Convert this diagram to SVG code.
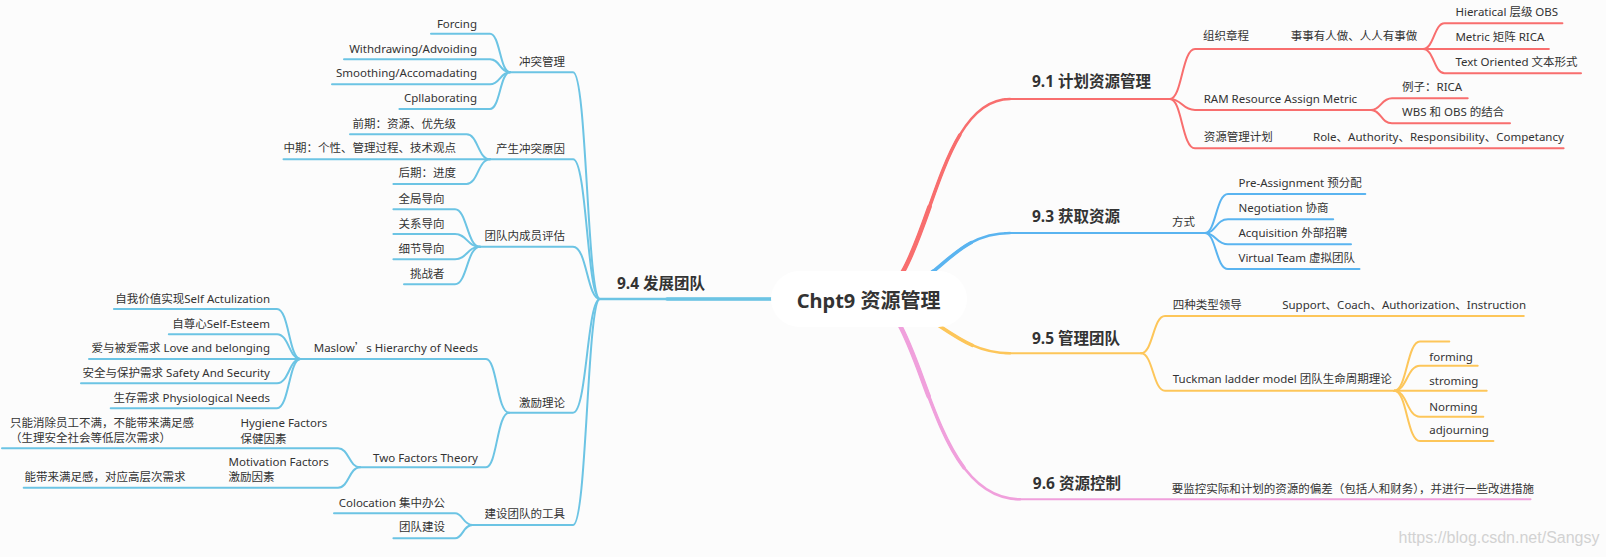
<svg xmlns="http://www.w3.org/2000/svg" width="1606" height="557" viewBox="0 0 1606 557">
<defs>
<style>
.t{font-family:"Noto Sans","Noto Sans CJK SC",sans-serif;font-size:11.5px;fill:#333}
.e{text-anchor:end}
.b{font-family:"Noto Sans","Noto Sans CJK SC",sans-serif;font-size:15.5px;font-weight:bold;fill:#333}
.c{font-family:"Noto Sans","Noto Sans CJK SC",sans-serif;font-size:20px;font-weight:bold;fill:#333}
.cj{font-family:"Noto Sans CJK SC",sans-serif}
.l{fill:none;stroke-width:2;stroke-linecap:round;stroke-linejoin:round}
.L{stroke:#6cc4e4}.R{stroke:#f86e6e}.B{stroke:#5ab4f0}.Y{stroke:#fdc65a}.P{stroke:#f0a0dc}
.m1{stroke-width:2.5}
.m2{stroke-width:3.5;stroke-dasharray:75 200}
.m3{stroke-width:4.6;stroke-dasharray:45 200}
.wm{font-family:"Liberation Sans",sans-serif;font-size:16px;fill:#d2d2d2}
</style>
</defs>
<rect width="1606" height="557" fill="#fcfcfc"/>
<g id="connectors">
<!-- main branches (tapered) -->
<g class="l L">
<path class="m1" d="M868,299 L600,299"/>
<path class="m2" pathLength="100" d="M868,299 L600,299"/>
</g>
<g class="l R">
<path class="m1" pathLength="100" d="M868,299 C930,299 930,99 1010,99"/>
<path class="m2" pathLength="100" d="M868,299 C930,299 930,99 1010,99"/>
<path class="m3" pathLength="100" d="M868,299 C930,299 930,99 1010,99"/>
</g>
<g class="l B">
<path class="m1" pathLength="100" d="M868,299 C935,299 945,233 1010,233"/>
<path class="m2" pathLength="100" d="M868,299 C935,299 945,233 1010,233"/>
<path class="m3" pathLength="100" d="M868,299 C935,299 945,233 1010,233"/>
</g>
<g class="l Y">
<path class="m1" pathLength="100" d="M868,299 C930,299 950,353.3 1010,353.3"/>
<path class="m2" pathLength="100" d="M868,299 C930,299 950,353.3 1010,353.3"/>
<path class="m3" pathLength="100" d="M868,299 C930,299 950,353.3 1010,353.3"/>
</g>
<g class="l P">
<path class="m1" pathLength="100" d="M868,299 C925,299 925,499.3 1020,499.3"/>
<path class="m2" pathLength="100" d="M868,299 C925,299 925,499.3 1020,499.3"/>
<path class="m3" pathLength="100" d="M868,299 C925,299 925,499.3 1020,499.3"/>
</g>
<!-- 9.4 subtree -->
<g class="l L">
<path d="M600,299 C587,299 587,72.3 573,72.3 L510,72.3"/>
<path d="M600,299 C587,299 587,159.3 573,159.3 L490,159.3"/>
<path d="M600,299 C587,299 587,246.7 573,246.7 L480,246.7"/>
<path d="M600,299 C587,299 587,412.7 573,412.7 L509,412.7"/>
<path d="M600,299 C587,299 587,525 573,525 L472.5,525"/>
<path d="M510,72.3 C500,72.3 500,33.7 490,33.7 L431,33.7"/>
<path d="M510,72.3 C500,72.3 500,59.3 490,59.3 L344,59.3"/>
<path d="M510,72.3 C500,72.3 500,84.3 490,84.3 L332,84.3"/>
<path d="M510,72.3 C500,72.3 500,109 490,109 L399.4,109"/>
<path d="M490,159.3 C478,159.3 478,134.3 466.6,134.3 L350,134.3"/>
<path d="M490,159.3 L283.5,159.3"/>
<path d="M490,159.3 C478,159.3 478,184 466.6,184 L393.4,184"/>
<path d="M480,246.7 C467,246.7 467,209.3 455,209.3 L393.4,209.3"/>
<path d="M480,246.7 C467,246.7 467,234 455,234 L393.4,234"/>
<path d="M480,246.7 C467,246.7 467,259.3 455,259.3 L393.4,259.3"/>
<path d="M480,246.7 C467,246.7 467,284.3 455,284.3 L404,284.3"/>
<path d="M509,412.7 C497,412.7 497,359 486,359 L300.5,359"/>
<path d="M509,412.7 C497,412.7 497,467.3 486,467.3 L360,467.3"/>
<path d="M472.5,525 C463,525 463,513.3 455,513.3 L334,513.3"/>
<path d="M472.5,525 C463,525 463,538.3 455,538.3 L393.4,538.3"/>
<path d="M300.5,359 C289,359 289,309 277,309 L113.9,309"/>
<path d="M300.5,359 C289,359 289,334.3 277,334.3 L168.8,334.3"/>
<path d="M300.5,359 L89,359"/>
<path d="M300.5,359 C289,359 289,383.3 277,383.3 L81,383.3"/>
<path d="M300.5,359 C289,359 289,408.3 277,408.3 L110.7,408.3"/>
<path d="M360,467.3 C349,467.3 349,448.3 338,448.3 L2,448.3"/>
<path d="M360,467.3 C349,467.3 349,487.7 338,487.7 L23.7,487.7"/>
</g>
<!-- 9.1 subtree -->
<g class="l R">
<path d="M1005,99 L1170,99"/>
<path d="M1170,99 C1182,99 1182,49 1195,49 L1423,49"/>
<path d="M1170,99 C1182,99 1182,110 1195,110 L1371,110"/>
<path d="M1170,99 C1182,99 1182,148.3 1195,148.3 L1563.6,148.3"/>
<path d="M1423,49 C1434,49 1434,23.3 1444.5,23.3 L1562.4,23.3"/>
<path d="M1423,49 L1548.9,49"/>
<path d="M1423,49 C1434,49 1434,73.3 1444.5,73.3 L1581,73.3"/>
<path d="M1371,110 C1381,110 1381,98.3 1392,98.3 L1467.7,98.3"/>
<path d="M1371,110 C1381,110 1381,123.3 1392,123.3 L1510,123.3"/>
</g>
<!-- 9.3 subtree -->
<g class="l B">
<path d="M1005,233 L1205,233"/>
<path d="M1205,233 C1216,233 1216,194 1228,194 L1365.3,194"/>
<path d="M1205,233 C1216,233 1216,219.3 1228,219.3 L1333.2,219.3"/>
<path d="M1205,233 C1216,233 1216,244.3 1228,244.3 L1351,244.3"/>
<path d="M1205,233 C1216,233 1216,269 1228,269 L1359.5,269"/>
</g>
<!-- 9.5 subtree -->
<g class="l Y">
<path d="M1005,353.3 L1141,353.3"/>
<path d="M1141,353.3 C1153,353.3 1153,316 1165,316 L1523.8,316"/>
<path d="M1141,353.3 C1153,353.3 1153,390.7 1165,390.7 L1394.3,390.7"/>
<path d="M1394.3,390.7 C1407,390.7 1407,341.5 1420,341.5 L1449.3,341.5"/>
<path d="M1394.3,390.7 C1407,390.7 1407,365.7 1420,365.7 L1477.7,365.7"/>
<path d="M1394.3,390.7 L1486.7,390.7"/>
<path d="M1394.3,390.7 C1407,390.7 1407,416.7 1420,416.7 L1483.3,416.7"/>
<path d="M1394.3,390.7 C1407,390.7 1407,441 1420,441 L1493.4,441"/>
</g>
<!-- 9.6 -->
<g class="l P">
<path d="M1015,499.3 L1530.5,499.3"/>
</g>
</g>

<g id="center">
<rect x="771" y="271" width="196" height="56" rx="28" fill="#ffffff"/>
<text class="c" x="796.7" y="308.3">Chpt9 资源管理</text>
</g>

<g id="n94"><text class="b" x="617" y="289">9.4 发展团队</text></g>
<g id="n-conflict"><text class="t e" x="565" y="65.7">冲突管理</text></g>
<g id="n-forcing"><text class="t e" x="477" y="27.7">Forcing</text></g>
<g id="n-withdrawing"><text class="t e" x="477" y="52.7">Withdrawing/Advoiding</text></g>
<g id="n-smoothing"><text class="t e" x="477" y="77.3">Smoothing/Accomadating</text></g>
<g id="n-collab"><text class="t e" x="477" y="102.3">Cpllaborating</text></g>
<g id="n-cause"><text class="t e" x="565" y="152.7">产生冲突原因</text></g>
<g id="n-early"><text class="t e" x="456" y="127.7">前期：资源、优先级</text></g>
<g id="n-mid"><text class="t e" x="456" y="152.3">中期：个性、管理过程、技术观点</text></g>
<g id="n-late"><text class="t e" x="456" y="177.3">后期：进度</text></g>
<g id="n-eval"><text class="t e" x="565" y="240">团队内成员评估</text></g>
<g id="n-global"><text class="t e" x="444.5" y="203.3">全局导向</text></g>
<g id="n-rel"><text class="t e" x="444.5" y="228.3">关系导向</text></g>
<g id="n-detail"><text class="t e" x="444.5" y="253.3">细节导向</text></g>
<g id="n-challenger"><text class="t e" x="444.5" y="278.3">挑战者</text></g>
<g id="n-motiv"><text class="t e" x="565" y="406.7">激励理论</text></g>
<g id="n-maslow"><text class="t e" x="478" y="351.7">Maslow<tspan class="cj">’</tspan>s Hierarchy of Needs</text></g>
<g id="n-self"><text class="t e" x="270" y="303.3">自我价值实现Self Actulization</text></g>
<g id="n-esteem"><text class="t e" x="270" y="328.3">自尊心Self-Esteem</text></g>
<g id="n-love"><text class="t e" x="270" y="351.7">爱与被爱需求 Love and belonging</text></g>
<g id="n-safety"><text class="t e" x="270" y="377.3">安全与保护需求 Safety And Security</text></g>
<g id="n-phys"><text class="t e" x="270" y="401.7">生存需求 Physiological Needs</text></g>
<g id="n-two"><text class="t e" x="478" y="461.7">Two Factors Theory</text></g>
<g id="n-hygiene"><text class="t" x="240.4" y="427.3">Hygiene Factors</text><text class="t" x="240.4" y="442.7">保健因素</text></g>
<g id="n-hygiene-desc"><text class="t" x="10" y="426.7">只能消除员工不满，不能带来满足感</text><text class="t" x="10" y="441.7">（生理安全社会等低层次需求）</text></g>
<g id="n-motivation"><text class="t" x="228.5" y="466">Motivation Factors</text><text class="t" x="228.5" y="481">激励因素</text></g>
<g id="n-motivation-desc"><text class="t e" x="185.5" y="481">能带来满足感，对应高层次需求</text></g>
<g id="n-tools"><text class="t e" x="565" y="518.3">建设团队的工具</text></g>
<g id="n-coloc"><text class="t e" x="445" y="506.7">Colocation 集中办公</text></g>
<g id="n-teambuild"><text class="t e" x="445" y="531">团队建设</text></g>

<g id="n91"><text class="b" x="1032" y="87.3">9.1 计划资源管理</text></g>
<g id="n-charter"><text class="t" x="1203" y="40">组织章程</text></g>
<g id="n-everyone"><text class="t" x="1290.7" y="40">事事有人做、人人有事做</text></g>
<g id="n-hier"><text class="t" x="1455.4" y="16">Hieratical 层级 OBS</text></g>
<g id="n-metric"><text class="t" x="1455.4" y="41">Metric 矩阵 RICA</text></g>
<g id="n-textori"><text class="t" x="1455.4" y="65.7">Text Oriented 文本形式</text></g>
<g id="n-ram"><text class="t" x="1203.7" y="102.7">RAM Resource Assign Metric</text></g>
<g id="n-example"><text class="t" x="1402" y="91">例子：RICA</text></g>
<g id="n-wbsobs"><text class="t" x="1402" y="116">WBS 和 OBS 的结合</text></g>
<g id="n-rmplan"><text class="t" x="1203.7" y="141">资源管理计划</text></g>
<g id="n-role"><text class="t" x="1313" y="141">Role、Authority、Responsibility、Competancy</text></g>

<g id="n93"><text class="b" x="1032" y="221.7">9.3 获取资源</text></g>
<g id="n-way"><text class="t" x="1172" y="226">方式</text></g>
<g id="n-pre"><text class="t" x="1238.5" y="187.3">Pre-Assignment 预分配</text></g>
<g id="n-nego"><text class="t" x="1238.5" y="212.3">Negotiation 协商</text></g>
<g id="n-acq"><text class="t" x="1238.5" y="237.3">Acquisition 外部招聘</text></g>
<g id="n-virtual"><text class="t" x="1238.5" y="262.3">Virtual Team 虚拟团队</text></g>

<g id="n95"><text class="b" x="1032" y="344.3">9.5 管理团队</text></g>
<g id="n-lead"><text class="t" x="1172.8" y="309.3">四种类型领导</text></g>
<g id="n-support"><text class="t" x="1282.2" y="309.3">Support、Coach、Authorization、Instruction</text></g>
<g id="n-tuckman"><text class="t" x="1172.8" y="383.3">Tuckman ladder model 团队生命周期理论</text></g>
<g id="n-empty"></g>
<g id="n-forming"><text class="t" x="1429.3" y="360.7">forming</text></g>
<g id="n-storming"><text class="t" x="1429.3" y="385">stroming</text></g>
<g id="n-norming"><text class="t" x="1429.3" y="410.7">Norming</text></g>
<g id="n-adjourning"><text class="t" x="1429.3" y="434">adjourning</text></g>

<g id="n96"><text class="b" x="1032.8" y="489.3">9.6 资源控制</text></g>
<g id="n-monitor"><text class="t" x="1171.7" y="493.3">要监控实际和计划的资源的偏差（包括人和财务），并进行一些改进措施</text></g>

<text class="wm" x="1398.5" y="543.3">https://blog.csdn.net/Sangsy</text>
</svg>
